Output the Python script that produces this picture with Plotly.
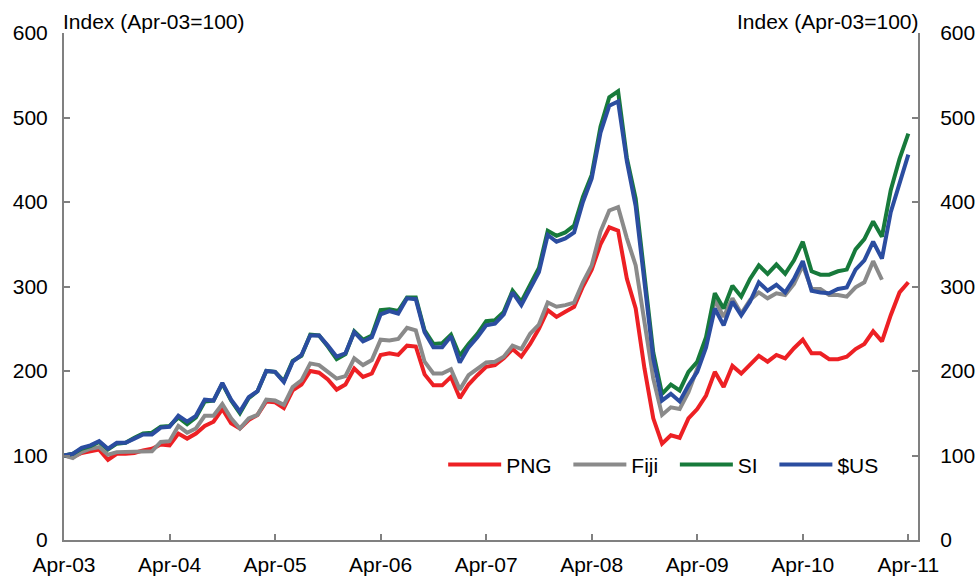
import plotly.graph_objects as go

tick_labels = ["Apr-03", "Apr-04", "Apr-05", "Apr-06", "Apr-07", "Apr-08", "Apr-09", "Apr-10", "Apr-11"]
tick_months = [0, 12, 24, 36, 48, 60, 72, 84, 96]

# Monthly index values, Apr-03 = 100
png = [100, 98, 103, 105, 107, 95, 102, 102, 103, 106, 108, 113, 112, 126, 120, 126, 135, 140, 155, 138,
       132, 142, 148, 164, 163, 156, 177, 184, 200, 198, 190, 178, 184, 203, 193, 197, 219, 221, 219, 230,
       229, 196, 183, 183, 193, 168, 184, 195, 205, 207, 215, 226, 217, 232, 250, 272, 264, 270, 276, 300,
       320, 350, 370, 366, 309, 274, 203, 144, 114, 124, 121, 144, 155, 171, 199, 181, 206, 197, 207, 218,
       211, 219, 215, 227, 237, 221, 221, 214, 214, 217, 226, 232, 247, 235, 266, 293, 305]

fiji = [100, 97, 104, 108, 110, 101, 104, 104, 104, 105, 105, 116, 117, 135, 127, 132, 147, 147, 161, 144,
        132, 144, 148, 166, 165, 160, 181, 189, 209, 207, 199, 191, 194, 215, 207, 213, 237, 236, 238, 251,
        248, 211, 197, 197, 202, 178, 195, 203, 210, 211, 217, 230, 226, 244, 255, 281, 276, 278, 281, 305,
        325, 365, 390, 394, 357, 325, 254, 191, 148, 157, 155, 175, 203, 234, 284, 264, 286, 268, 284, 293,
        286, 292, 290, 303, 325, 297, 297, 290, 290, 288, 299, 305, 330, 308]

si = [100, 102, 108, 111, 116, 107, 114, 115, 121, 126, 127, 134, 135, 145, 137, 145, 164, 165, 185, 165,
      150, 168, 176, 200, 199, 188, 212, 218, 243, 242, 229, 214, 220, 247, 237, 242, 272, 273, 271, 287,
      287, 248, 232, 233, 243, 218, 232, 244, 259, 260, 270, 295, 282, 303, 322, 366, 360, 364, 372, 406,
      432, 489, 524, 531, 452, 404, 309, 222, 173, 184, 177, 199, 211, 240, 292, 274, 301, 288, 309, 325,
      315, 326, 315, 331, 353, 318, 314, 314, 318, 320, 344, 356, 377, 359, 414, 451, 481]

usd = [100, 102, 109, 112, 117, 108, 115, 115, 120, 125, 125, 133, 134, 147, 140, 147, 166, 165, 186, 166,
       152, 169, 176, 200, 199, 187, 211, 219, 242, 242, 230, 217, 221, 246, 235, 240, 267, 271, 268, 286,
       285, 246, 228, 228, 241, 210, 228, 240, 254, 256, 267, 293, 278, 297, 317, 361, 353, 357, 364, 400,
       428, 482, 514, 519, 448, 395, 305, 215, 165, 173, 164, 183, 199, 228, 274, 254, 282, 266, 282, 305,
       295, 302, 293, 309, 330, 295, 293, 292, 297, 299, 320, 331, 353, 333, 388, 424, 456]

series = [
    ("PNG", png, "#ED2024"),
    ("Fiji", fiji, "#8A8A8A"),
    ("SI", si, "#177A3B"),
    ("$US", usd, "#2B4DA0"),
]
# extra legend spacing after each label (non-breaking spaces)
legend_pad = {"PNG": 2, "Fiji": 2, "SI": 2, "$US": 0}

FONT = "Liberation Sans, Arial, sans-serif"
AXIS_GRAY = "#808080"

fig = go.Figure()
for name, vals, color in series:
    fig.add_trace(go.Scatter(
        x=list(range(len(vals))), y=vals, mode="lines",
        name=name + "\u00a0" * legend_pad[name],
        line=dict(color=color, width=4),
    ))

# empty trace so that the right-hand axis is drawn
fig.add_trace(go.Scatter(x=[0, 96], y=[None, None], yaxis="y2", mode="lines",
                         showlegend=False, hoverinfo="skip"))

axis_common = dict(
    showgrid=False, zeroline=False, showline=True, linecolor=AXIS_GRAY, linewidth=2,
    ticks="inside", ticklen=6, tickwidth=2, tickcolor=AXIS_GRAY,
    tickfont=dict(size=21, color="black"), automargin=False,
)

fig.update_layout(
    width=975, height=577,
    margin=dict(l=64, r=57, t=33, b=37, autoexpand=False),
    paper_bgcolor="white", plot_bgcolor="white",
    font=dict(family=FONT, size=21, color="black"),
    showlegend=True,
    legend=dict(
        orientation="h", x=0.444, y=0.148, xanchor="left", yanchor="middle",
        bgcolor="rgba(0,0,0,0)", font=dict(size=21), itemwidth=53,
        traceorder="normal",
    ),
    xaxis=dict(
        range=[0, 97.1], tickmode="array", tickvals=tick_months, ticktext=tick_labels,
        ticklabelstandoff=5, **axis_common,
    ),
    yaxis=dict(range=[0, 600], dtick=100, tick0=0, ticklabelstandoff=10, **axis_common),
    yaxis2=dict(range=[0, 600], dtick=100, tick0=0, overlaying="y", side="right",
                ticklabelstandoff=16, **axis_common),
    annotations=[
        dict(text="Index (Apr-03=100)", xref="paper", yref="paper", x=0, y=1.0,
             xanchor="left", yanchor="bottom", showarrow=False, yshift=-2, xshift=-3,
             font=dict(size=21, color="black")),
        dict(text="Index (Apr-03=100)", xref="paper", yref="paper", x=1, y=1.0,
             xanchor="right", yanchor="bottom", showarrow=False, yshift=-2, xshift=3,
             font=dict(size=21, color="black")),
    ],
)

fig.write_html("out.html", config={"displayModeBar": False},
               post_script="document.body.style.margin='0';")
